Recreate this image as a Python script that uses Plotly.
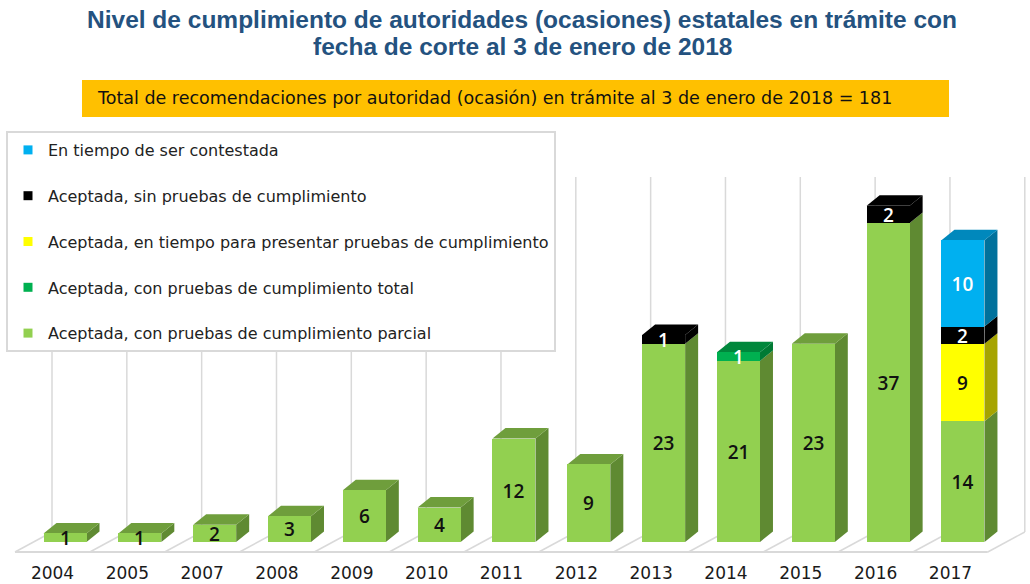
import plotly.graph_objects as go

# ---- data -----------------------------------------------------------------
years = ["2004", "2005", "2007", "2008", "2009", "2010", "2011",
         "2012", "2013", "2014", "2015", "2016", "2017"]
parcial = [1, 1, 2, 3, 6, 4, 12, 9, 23, 21, 23, 37, 14]
total = [None, None, None, None, None, None, None, None, None, 1, None, None, None]
en_tiempo_pruebas = [None, None, None, None, None, None, None, None, None, None, None, None, 9]
sin_pruebas = [None, None, None, None, None, None, None, None, 1, None, None, 2, 2]
en_tiempo_contestada = [None, None, None, None, None, None, None, None, None, None, None, None, 10]

names = [
    "Aceptada, con pruebas de cumplimiento parcial",
    "Aceptada, con pruebas de cumplimiento total",
    "Aceptada, en tiempo para presentar pruebas de cumplimiento",
    "Aceptada, sin pruebas de cumplimiento",
    "En tiempo de ser contestada",
]
values = [parcial, total, en_tiempo_pruebas, sin_pruebas, en_tiempo_contestada]

# front, top, side colours and label colour, bottom of the stack first
front_colors = ["#92D050", "#00B050", "#FFFF00", "#000000", "#00B0F0"]
top_colors = ["#6F9E3C", "#00873C", "#C8C800", "#000000", "#0088BC"]
side_colors = ["#5F8A32", "#007A34", "#A6A400", "#000000", "#00719C"]
label_colors = ["#111111", "#FFFFFF", "#111111", "#FFFFFF", "#FFFFFF"]

# ---- layout geometry (pixels -> axis units) ---------------------------------
W, H = 1030, 584
CAT_PX = 74.83          # pixels per category
ORIGIN_PX = 52.5        # pixel x of the first category tick
UNIT_PX = 8.62          # pixels per unit of value
BASE_PY = 542           # pixel y of the bars' base
MARGIN_B = 31
PLOT_H = H - MARGIN_B

x_range = [-ORIGIN_PX / CAT_PX, (W - ORIGIN_PX) / CAT_PX]
y_range = [(BASE_PY - PLOT_H) / UNIT_PX, BASE_PY / UNIT_PX]


def vy(py):
    return (BASE_PY - py) / UNIT_PX


def paper_y(py):
    return 1 - py / PLOT_H


BAR_OFFSET = -9 / CAT_PX
BAR_W = 43 / CAT_PX
DEPTH_X = 13 / CAT_PX
DEPTH_Y = 10.5 / UNIT_PX

GRID = "#D9D9D9"
shapes = []

# floor and back-wall gridlines
floor_front = vy(552)
floor_back = vy(532)
wall_top = vy(177)
n = len(years)
for m in range(n + 1):
    xb = m - 0.5 / CAT_PX
    xf = m - 37.5 / CAT_PX
    shapes.append(dict(type="line", xref="x", yref="y", x0=xb, x1=xb,
                       y0=floor_back, y1=wall_top, layer="below",
                       line=dict(color=GRID, width=1.5)))
    shapes.append(dict(type="line", xref="x", yref="y", x0=xf, x1=xb,
                       y0=floor_front, y1=floor_back, layer="below",
                       line=dict(color=GRID, width=1.5)))
shapes.append(dict(type="line", xref="x", yref="y", x0=-37.5 / CAT_PX,
                   x1=n - 37.5 / CAT_PX, y0=floor_front, y1=floor_front,
                   layer="below", line=dict(color=GRID, width=2)))

# depth faces (right side of every segment, top of every stack)
for k in range(n):
    base = 0
    segs = []
    for s, vals in enumerate(values):
        v = vals[k]
        if v:
            segs.append((s, base, base + v))
            base += v
    for i, (s, y0, y1) in enumerate(segs):
        xl = k + BAR_OFFSET
        xr = xl + BAR_W
        side = (f"M{xr},{y0} L{xr + DEPTH_X},{y0 + DEPTH_Y} "
                f"L{xr + DEPTH_X},{y1 + DEPTH_Y} L{xr},{y1} Z")
        shapes.append(dict(type="path", xref="x", yref="y", path=side,
                           fillcolor=side_colors[s], line=dict(width=0),
                           layer="below"))
        if i == len(segs) - 1:
            top = (f"M{xl},{y1} L{xl + DEPTH_X},{y1 + DEPTH_Y} "
                   f"L{xr + DEPTH_X},{y1 + DEPTH_Y} L{xr},{y1} Z")
            shapes.append(dict(type="path", xref="x", yref="y", path=top,
                               fillcolor=top_colors[s], line=dict(width=0),
                               layer="below"))

# subtitle banner
shapes.append(dict(type="rect", xref="paper", yref="paper",
                   x0=82 / W, x1=949 / W, y0=paper_y(117), y1=paper_y(80),
                   fillcolor="#FFC000", line=dict(width=0), layer="below"))

fig = go.Figure()
xs = list(range(n))
for s, vals in enumerate(values):
    fig.add_trace(go.Bar(
        x=xs, y=vals, width=BAR_W, offset=BAR_OFFSET,
        marker=dict(color=front_colors[s], line=dict(width=0)),
        text=[str(v) if v else None for v in vals],
        textposition="inside", insidetextanchor="middle", textangle=0,
        textfont=dict(family="Open Sans", size=19, weight=600,
                      color=label_colors[s]),
        showlegend=False, hoverinfo="skip", cliponaxis=False,
    ))

# legend entries, top to bottom
for s in reversed(range(len(values))):
    fig.add_trace(go.Scatter(
        x=[None], y=[None], mode="markers", name=names[s],
        legendgroup=names[s],
        marker=dict(symbol="square", size=9, color=front_colors[s]),
    ))

TITLE_FONT = dict(family="Liberation Sans", size=24.5, weight="bold", color="#24527F")

fig.update_layout(
    width=W, height=H,
    margin=dict(l=0, r=0, t=0, b=MARGIN_B, pad=0),
    paper_bgcolor="white", plot_bgcolor="white",
    barmode="stack", bargap=0,
    uniformtext=dict(minsize=19, mode="show"),
    shapes=shapes,
    showlegend=True,
    legend=dict(
        x=6 / W, y=paper_y(131), xanchor="left", yanchor="top",
        bgcolor="white", bordercolor="#D9D9D9", borderwidth=2,
        traceorder="grouped", tracegroupgap=22,
        font=dict(family="DejaVu Sans", size=16, color="#222222"),
    ),
    xaxis=dict(range=x_range, tickvals=xs, ticktext=years, showgrid=False,
               zeroline=False, showline=False, ticks="", automargin=False,
               ticklabelstandoff=8,
               tickfont=dict(family="DejaVu Sans", size=17, color="#1A1A1A")),
    yaxis=dict(range=y_range, visible=False, automargin=False),
    annotations=[
        dict(xref="paper", yref="paper", x=522 / W, y=paper_y(19),
             xanchor="center", yanchor="middle", showarrow=False,
             text="Nivel de cumplimiento de autoridades (ocasiones) estatales en trámite con",
             font=TITLE_FONT),
        dict(xref="paper", yref="paper", x=522 / W, y=paper_y(46),
             xanchor="center", yanchor="middle", showarrow=False,
             text="fecha de corte al 3 de enero de 2018",
             font=TITLE_FONT),
        dict(xref="paper", yref="paper", x=95 / W, y=paper_y(98.5),
             xanchor="left", yanchor="middle", showarrow=False,
             text="Total de recomendaciones por autoridad (ocasión) en trámite al 3 de enero de 2018 = 181",
             font=dict(family="DejaVu Sans", size=17.5, color="#111111")),
    ],
)

fig.write_html("out.html")
